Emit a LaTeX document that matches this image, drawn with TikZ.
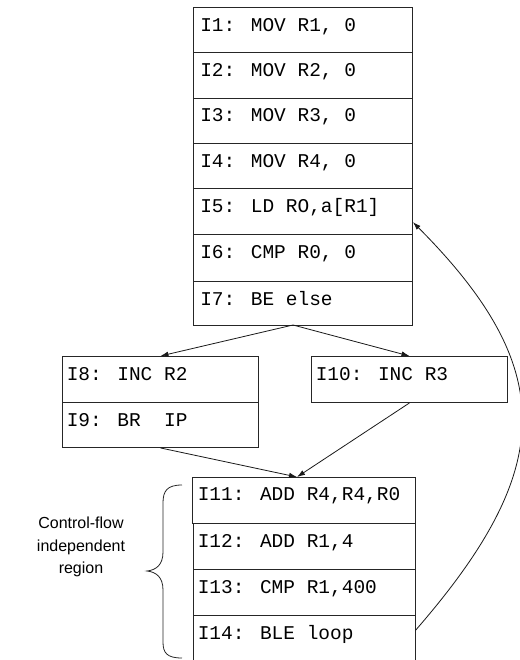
\documentclass[tikz,border=0pt]{standalone}
\usepackage{fontspec}
\setmainfont{Liberation Sans}
\newfontfamily\codefont{Liberation Mono}
\usetikzlibrary{arrows.meta}
\tikzset{
  box/.style={draw=black!85, line width=0.7pt, rectangle, inner sep=0pt},
  code/.style={anchor=base west, inner sep=0pt, font=\codefont\fontsize{14.6pt}{18pt}\selectfont},
  conn/.style={draw=black!90, line width=0.6pt, -{Latex[length=6pt,width=4pt]}},
}
\begin{document}
\begin{tikzpicture}[x=0.75pt, y=-0.75pt]
\useasboundingbox (0,0) rectangle (520,660);
% top block
\foreach \n/\a/\b in {1/7/52, 2/52/98, 3/98/143, 4/143/188, 5/188/234, 6/234/281, 7/281/325}{
  \node[box, minimum width=164.25pt, minimum height={(\b-\a)*0.75pt}, anchor=north west] (r\n) at (193,\a) {};
}
\node[code] (t1) at (200,31.5) {I1: MOV R1, 0};
\node[code] (t2) at (200,76.5) {I2: MOV R2, 0};
\node[code] (t3) at (200,122) {I3: MOV R3, 0};
\node[code] (t4) at (200,167) {I4: MOV R4, 0};
\node[code] (t5) at (200,212) {I5: LD RO,a[R1]};
\node[code] (t6) at (200,258) {I6: CMP R0, 0};
\node[code] (t7) at (200,305) {I7: BE else};
% middle blocks
\node[box, minimum width=147pt, minimum height=34.5pt, anchor=north west] (r8) at (62,356) {};
\node[box, minimum width=147pt, minimum height=33.75pt, anchor=north west] (r9) at (62,402) {};
\node[box, minimum width=147pt, minimum height=34.5pt, anchor=north west] (r10) at (311,356) {};
\node[code] (t8) at (66.5,380.5) {I8: INC R2};
\node[code] (t9) at (66.5,426) {I9: BR\ \ IP};
\node[code] (t10) at (315.5,380.5) {I10: INC R3};
% bottom block
\node[box, minimum width=167.25pt, minimum height=34.5pt, anchor=north west] (r11) at (192,477) {};
\node[box, minimum width=166.5pt, minimum height=34.5pt, anchor=north west] (r12) at (193,523) {};
\node[box, minimum width=166.5pt, minimum height=34.5pt, anchor=north west] (r13) at (193,569) {};
\node[rectangle, inner sep=0pt, minimum width=166.5pt, minimum height=33.75pt, anchor=north west] (r14) at (193,615) {};
\draw[draw=black!85, line width=0.7pt] (r14.south west) -- (r14.north west) -- (r14.north east) -- (r14.south east);
\node[code] (t11) at (197.5,500.5) {I11: ADD R4,R4,R0};
\node[code] (t12) at (197.5,547) {I12: ADD R1,4};
\node[code] (t13) at (197.5,593) {I13: CMP R1,400};
\node[code] (t14) at (197.5,639) {I14: BLE loop};
% connectors
\coordinate (fork) at (293,325);
\coordinate (join) at (297,477);
\draw[conn] (fork) -- (r8.north);
\draw[conn] (fork) -- (r10.north);
\draw[conn] (r9.south) -- (join);
\draw[conn] (r10.south) -- (join);
\draw[conn] ([yshift=5.6pt]r14.east) .. controls (555,470) and (560,370) .. ([yshift=-8pt]r5.east);
% brace and label
\draw[draw=black!85, line width=0.6pt] (182,485) .. controls (167,485) and (163,491) .. (163,503) -- (163,552)
  .. controls (163,565) and (156,570) .. (147,571)
  .. controls (156,572) and (163,577) .. (163,590) -- (163,642)
  .. controls (163,653) and (167,658) .. (182,658);
\node[align=center, inner sep=0pt, font=\fontsize{12pt}{17pt}\selectfont] (lbl) at (81,547) {Control-flow\\independent\\region};
\end{tikzpicture}
\end{document}
